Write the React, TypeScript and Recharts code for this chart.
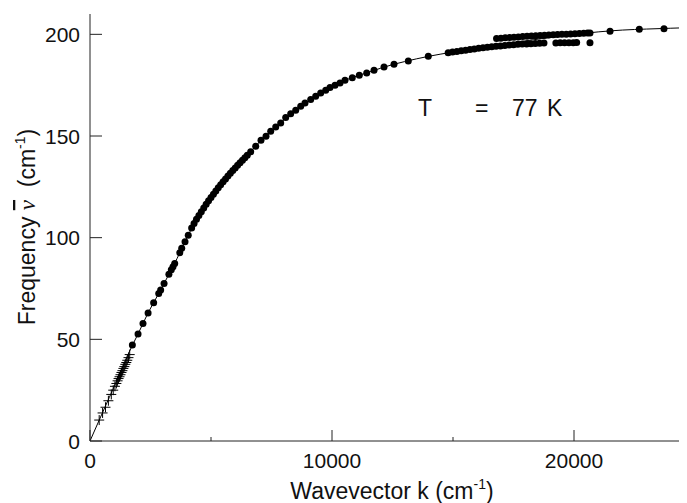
import React from 'react';
import { ComposedChart, XAxis, YAxis, Scatter, Line } from 'recharts';

// ---- data ----
const crossK = [380, 520, 640, 760, 880, 960, 1030, 1090, 1140, 1180, 1220, 1260, 1300, 1340, 1380, 1420, 1460, 1500, 1540, 1590, 1640];
const crossNu = [10.3, 13.8, 16.6, 19.8, 22.9, 25.0, 26.9, 28.3, 29.6, 30.7, 31.6, 32.6, 33.7, 34.6, 35.7, 36.6, 37.7, 38.6, 39.7, 41.0, 42.5];

const mainK = [
  1750, 1985, 2190, 2400, 2630, 2840, 2920, 3060, 3260, 3360, 3430, 3500, 3710, 3790, 3926, 4060, 4200,
  4300, 4400, 4500, 4600, 4700, 4800, 4900, 5000, 5100, 5200, 5300, 5400, 5500, 5600, 5700, 5800, 5900,
  6000, 6100, 6200, 6300, 6400, 6500,
  6640, 6847, 7066, 7273, 7467, 7674, 7880, 8087, 8293, 8500, 8707, 8884, 9120, 9326, 9533, 9740, 9917,
  10124, 10331, 10537, 10839, 11128, 11434, 11736, 12149, 12562, 13153, 13979,
];
const mainNu = [
  47.2, 52.6, 57.8, 63.0, 68.0, 72.6, 74.3, 77.4, 82.0, 84.2, 85.7, 87.3, 92.6, 94.8, 98.0, 101.2, 104.8,
  107.0, 109.0, 110.9, 112.8, 114.6, 116.4, 118.1, 119.8, 121.4, 123.0, 124.5, 126.0, 127.5, 128.9, 130.3, 131.7, 133.0,
  134.3, 135.6, 136.9, 138.1, 139.3, 140.5,
  142.2, 145.0, 147.9, 149.9, 152.3, 154.4, 156.4, 159.1, 161.0, 162.7, 164.6, 166.2, 167.9, 169.5, 171.2, 172.5, 173.8,
  174.9, 176.1, 177.4, 178.7, 179.9, 181.0, 182.3, 183.9, 185.3, 186.9, 189.2,
];

const lowerK = [
  14800, 14980, 15160, 15340, 15520, 15700, 15880, 16060, 16240, 16420, 16600, 16780, 16960, 17140, 17320,
  17500, 17680, 17860, 18040, 18220, 18400, 18580, 18760, 19250, 19430, 19610, 19790, 19970, 20110, 20660,
];
const lowerNu = [
  191.0, 191.3, 191.6, 191.9, 192.2, 192.5, 192.8, 193.1, 193.4, 193.6, 193.9, 194.1, 194.3, 194.5, 194.7,
  194.9, 195.1, 195.2, 195.3, 195.4, 195.5, 195.6, 195.7, 195.7, 195.8, 195.8, 195.9, 195.9, 196.0, 195.9,
];

const upperK = [
  16800, 16980, 17160, 17340, 17520, 17700, 17880, 18060, 18240, 18420, 18600, 18780, 18960, 19140, 19320,
  19500, 19680, 19860, 20040, 20220, 20400, 20560, 20661, 21488, 22698, 23719,
];
const upperNu = [
  197.9, 198.1, 198.3, 198.4, 198.6, 198.7, 198.9, 199.0, 199.2, 199.3, 199.4, 199.6, 199.7, 199.8, 199.9,
  200.0, 200.1, 200.2, 200.3, 200.4, 200.5, 200.6, 200.6, 201.5, 202.5, 202.8,
];

const lineK = [0, 400, 800, 1200, 1600, 2000, 2400, 2800, 3200, 3600, 4000, 4400, 4800, 5200, 5600, 6000, 6500,
  7000, 7500, 8000, 8500, 9000, 9500, 10000, 10500, 11000, 11500, 12000, 12500, 13000, 14000, 15000, 16000,
  17000, 18000, 19000, 20000, 21000, 22000, 23000, 24000, 25000];
const lineNu = [0, 10.8, 21.5, 32.2, 43.3, 53.0, 63.0, 71.7, 80.6, 89.8, 99.8, 109.0, 116.4, 123.0, 128.9, 134.3, 140.5,
  147.0, 152.6, 157.7, 162.7, 167.0, 171.0, 174.2, 177.2, 179.4, 181.3, 183.3, 185.1, 186.6, 189.2, 191.3, 193.2,
  195.0, 196.8, 198.4, 199.9, 201.2, 202.1, 202.6, 203.0, 203.4];

const xTicks = [0, 5000, 10000, 15000, 20000, 25000];
const yTicks = [0, 50, 100, 150, 200];

const zip = (ks: number[], ns: number[]) => ks.map((k, i) => ({ k, nu: ns[i] }));
const crossData = zip(crossK, crossNu);
const dotData = [...zip(mainK, mainNu), ...zip(lowerK, lowerNu), ...zip(upperK, upperNu)];
const lineData = zip(lineK, lineNu);

const FONT = '"Liberation Sans", Arial, Helvetica, sans-serif';
const AX = '#222';

const BottomTick = (p: any) => {
  const { x, y, payload } = p;
  const major = payload.value % 10000 === 0;
  return (
    <g>
      <line x1={x} x2={x} y1={y} y2={y - (major ? 11 : 4)} stroke={AX} strokeWidth={1} />
      {major && (
        <text x={x} y={y + 27} textAnchor="middle" fontSize={21} fontFamily={FONT} fill="#111">
          {payload.value}
        </text>
      )}
    </g>
  );
};
const TopTick = (p: any) => {
  const { x, y, payload } = p;
  const major = payload.value % 10000 === 0;
  return <line x1={x} x2={x} y1={y} y2={y + (major ? 11 : 5)} stroke={AX} strokeWidth={1} />;
};
const LeftTick = (p: any) => {
  const { x, y, payload } = p;
  return (
    <g>
      <line x1={x} x2={x + 12} y1={y} y2={y} stroke={AX} strokeWidth={1} />
      <text x={x - 10} y={y} dy="0.36em" textAnchor="end" fontSize={21} fontFamily={FONT} fill="#111">
        {payload.value}
      </text>
    </g>
  );
};
const RightTick = (p: any) => {
  const { x, y } = p;
  return <line x1={x - 12} x2={x} y1={y} y2={y} stroke={AX} strokeWidth={1} />;
};

const Cross = (p: any) => {
  const { cx, cy } = p;
  if (cx == null || cy == null) return <g />;
  const s = 5;
  return (
    <g stroke="#000" strokeWidth={1}>
      <line x1={cx - s} x2={cx + s} y1={cy} y2={cy} />
      <line x1={cx} x2={cx} y1={cy - s} y2={cy + s} />
    </g>
  );
};
const Dot = (p: any) => {
  const { cx, cy } = p;
  if (cx == null || cy == null) return <g />;
  return <circle cx={cx} cy={cy} r={3.5} fill="#000" />;
};

export default function App() {
  return (
    <div style={{ position: 'relative', width: 687, height: 503, overflow: 'hidden', margin: '-8px 0 0 -8px', background: '#fff' }}>
      <ComposedChart width={720} height={503} margin={{ top: 14, right: 25, bottom: 0, left: 0 }}>
        <XAxis xAxisId="b" type="number" dataKey="k" domain={[0, 25000]} ticks={xTicks} interval={0}
          orientation="bottom" height={62} tickSize={0} tickMargin={0} tickLine={false}
          axisLine={{ stroke: AX, strokeWidth: 1 }} tick={<BottomTick />} allowDataOverflow />
        <XAxis xAxisId="t" type="number" dataKey="k" domain={[0, 25000]} ticks={xTicks} interval={0}
          orientation="top" height={0} tickSize={0} tickMargin={0} tickLine={false}
          axisLine={{ stroke: AX, strokeWidth: 1 }} tick={<TopTick />} allowDataOverflow />
        <YAxis yAxisId="l" type="number" dataKey="nu" domain={[0, 210]} ticks={yTicks} interval={0}
          orientation="left" width={90} tickSize={0} tickMargin={0} tickLine={false}
          axisLine={{ stroke: AX, strokeWidth: 1 }} tick={<LeftTick />} allowDataOverflow />
        <YAxis yAxisId="r" type="number" dataKey="nu" domain={[0, 210]} ticks={yTicks} interval={0}
          orientation="right" width={0} tickSize={0} tickMargin={0} tickLine={false}
          axisLine={{ stroke: AX, strokeWidth: 1 }} tick={<RightTick />} allowDataOverflow />
        <Line xAxisId="b" yAxisId="l" data={lineData} dataKey="nu" type="monotone" stroke="#000"
          strokeWidth={1} dot={false} activeDot={false} isAnimationActive={false} />
        <Scatter xAxisId="b" yAxisId="l" data={crossData} dataKey="nu" shape={<Cross />} isAnimationActive={false} />
        <Scatter xAxisId="b" yAxisId="l" data={dotData} dataKey="nu" shape={<Dot />} isAnimationActive={false} />
      </ComposedChart>
      <svg width={687} height={503} style={{ position: 'absolute', left: 0, top: 0, pointerEvents: 'none' }}>
        <text x={392} y={499} textAnchor="middle" fontSize={23} fontFamily={FONT} fill="#111">
          Wavevector k (cm<tspan fontSize={14} dy={-10}>-1</tspan><tspan dy={10}>)</tspan>
        </text>
        <text transform="translate(35,227) rotate(-90)" textAnchor="middle" fontSize={23} fontFamily={FONT} fill="#111">
          Frequency <tspan fontFamily='"Liberation Serif", serif' fontStyle="italic" style={{ textDecoration: 'overline' }}>{'\u03BD'}</tspan>
          {'\u00A0\u00A0(cm'}<tspan fontSize={14} dy={-10}>-1</tspan><tspan dy={10}>)</tspan>
        </text>
        <text x={418} y={116} fontSize={23} fontFamily={FONT} fill="#111">T</text>
        <text x={475} y={116} fontSize={23} fontFamily={FONT} fill="#111">=</text>
        <text x={512} y={116} fontSize={23} fontFamily={FONT} fill="#111">77</text>
        <text x={547} y={116} fontSize={23} fontFamily={FONT} fill="#111">K</text>
      </svg>
    </div>
  );
}
